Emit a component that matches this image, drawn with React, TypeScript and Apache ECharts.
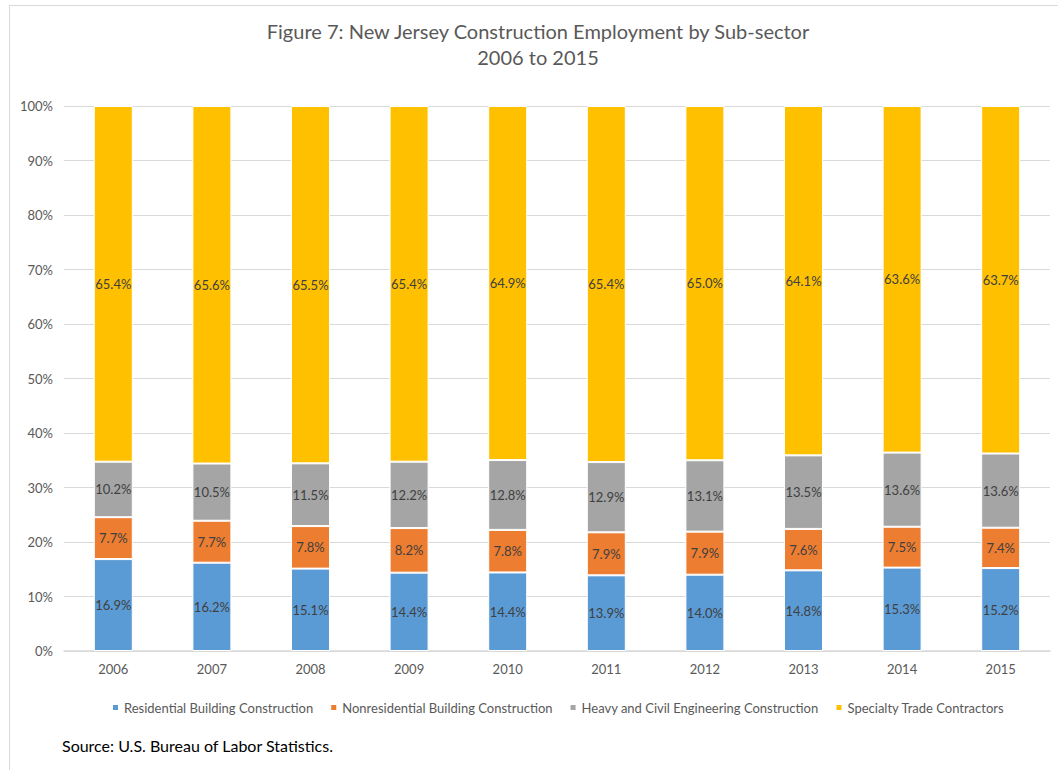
import React, { useEffect, useRef } from "react";
import * as echarts from "echarts";

const years = ["2006", "2007", "2008", "2009", "2010", "2011", "2012", "2013", "2014", "2015"];
const residential = [16.9, 16.2, 15.1, 14.4, 14.4, 13.9, 14.0, 14.8, 15.3, 15.2];
const nonresidential = [7.7, 7.7, 7.8, 8.2, 7.8, 7.9, 7.9, 7.6, 7.5, 7.4];
const heavyCivil = [10.2, 10.5, 11.5, 12.2, 12.8, 12.9, 13.1, 13.5, 13.6, 13.6];
const specialty = [65.4, 65.6, 65.5, 65.4, 64.9, 65.4, 65.0, 64.1, 63.6, 63.7];
const seriesNames = [
  "Residential Building Construction",
  "Nonresidential Building Construction",
  "Heavy and Civil Engineering Construction",
  "Specialty Trade Contractors",
];
const titleLines = ["Figure 7: New Jersey Construction Employment by Sub-sector", "2006 to 2015"];
const colors = ["#5B9BD5", "#ED7D31", "#A5A5A5", "#FFC000"];
const FONT = "Lato";

export default function App() {
  const ref = useRef<HTMLDivElement>(null);
  useEffect(() => {
    if (!ref.current) return;
    const chart = echarts.init(ref.current, undefined, { renderer: "svg" });
    const raw = [residential, nonresidential, heavyCivil, specialty];
    const totals = years.map((_, i) => raw.reduce((s, a) => s + a[i], 0));
    const series = raw.map((arr, k) => ({
      name: seriesNames[k],
      type: "bar",
      stack: "total",
      barWidth: 39,
      data: arr.map((v, i) => ({ value: (v / totals[i]) * 100, raw: v })),
      itemStyle: { color: colors[k], borderColor: "#ffffff", borderWidth: 1 },
      label: {
        show: true,
        position: "inside",
        color: "#404040",
        fontSize: 13,
        fontFamily: FONT,
        formatter: (p: any) => p.data.raw.toFixed(1) + "%",
      },
    }));
    chart.setOption({
      animation: false,
      backgroundColor: "#ffffff",
      textStyle: { fontFamily: FONT },
      legend: {
        bottom: 51,
        left: 106,
        itemWidth: 7,
        itemHeight: 7,
        itemGap: 16,
        icon: "rect",
        textStyle: { color: "#595959", fontSize: 13, fontFamily: FONT },
        data: seriesNames,
      },
      grid: { left: 64, right: 8, top: 106, bottom: 119, containLabel: false },
      xAxis: {
        type: "category",
        data: years,
        axisLine: { lineStyle: { color: "#d9d9d9", width: 1.5 } },
        axisTick: { show: false },
        axisLabel: { color: "#595959", fontSize: 13, margin: 11, fontFamily: FONT },
      },
      yAxis: {
        type: "value",
        min: 0,
        max: 100,
        interval: 10,
        axisLabel: { color: "#595959", fontSize: 13, margin: 11, formatter: "{value}%", fontFamily: FONT },
        splitLine: { lineStyle: { color: "#d9d9d9", width: 1 } },
        axisLine: { show: false },
        axisTick: { show: false },
      },
      graphic: [
        { type: "line", shape: { x1: 9, y1: 5.5, x2: 1058, y2: 5.5 }, style: { stroke: "#d9d9d9", lineWidth: 1 } },
        { type: "line", shape: { x1: 9.5, y1: 5, x2: 9.5, y2: 770 }, style: { stroke: "#d9d9d9", lineWidth: 1 } },
        {
          type: "text",
          x: 538,
          y: 31,
          style: { text: titleLines[0], fontSize: 20, fill: "#595959", fontFamily: FONT, textAlign: "center", textVerticalAlign: "middle" },
        },
        {
          type: "text",
          x: 538,
          y: 57,
          style: { text: titleLines[1], fontSize: 20, fill: "#595959", fontFamily: FONT, textAlign: "center", textVerticalAlign: "middle" },
        },
        {
          type: "text",
          x: 62,
          y: 745,
          style: { text: "Source: U.S. Bureau of Labor Statistics.", fontSize: 16, fill: "#000000", fontFamily: FONT, textVerticalAlign: "middle" },
        },
      ],
      series,
    });
    return () => chart.dispose();
  }, []);
  return <div ref={ref} style={{ position: "fixed", left: 0, top: 0, width: 1058, height: 770 }} />;
}
